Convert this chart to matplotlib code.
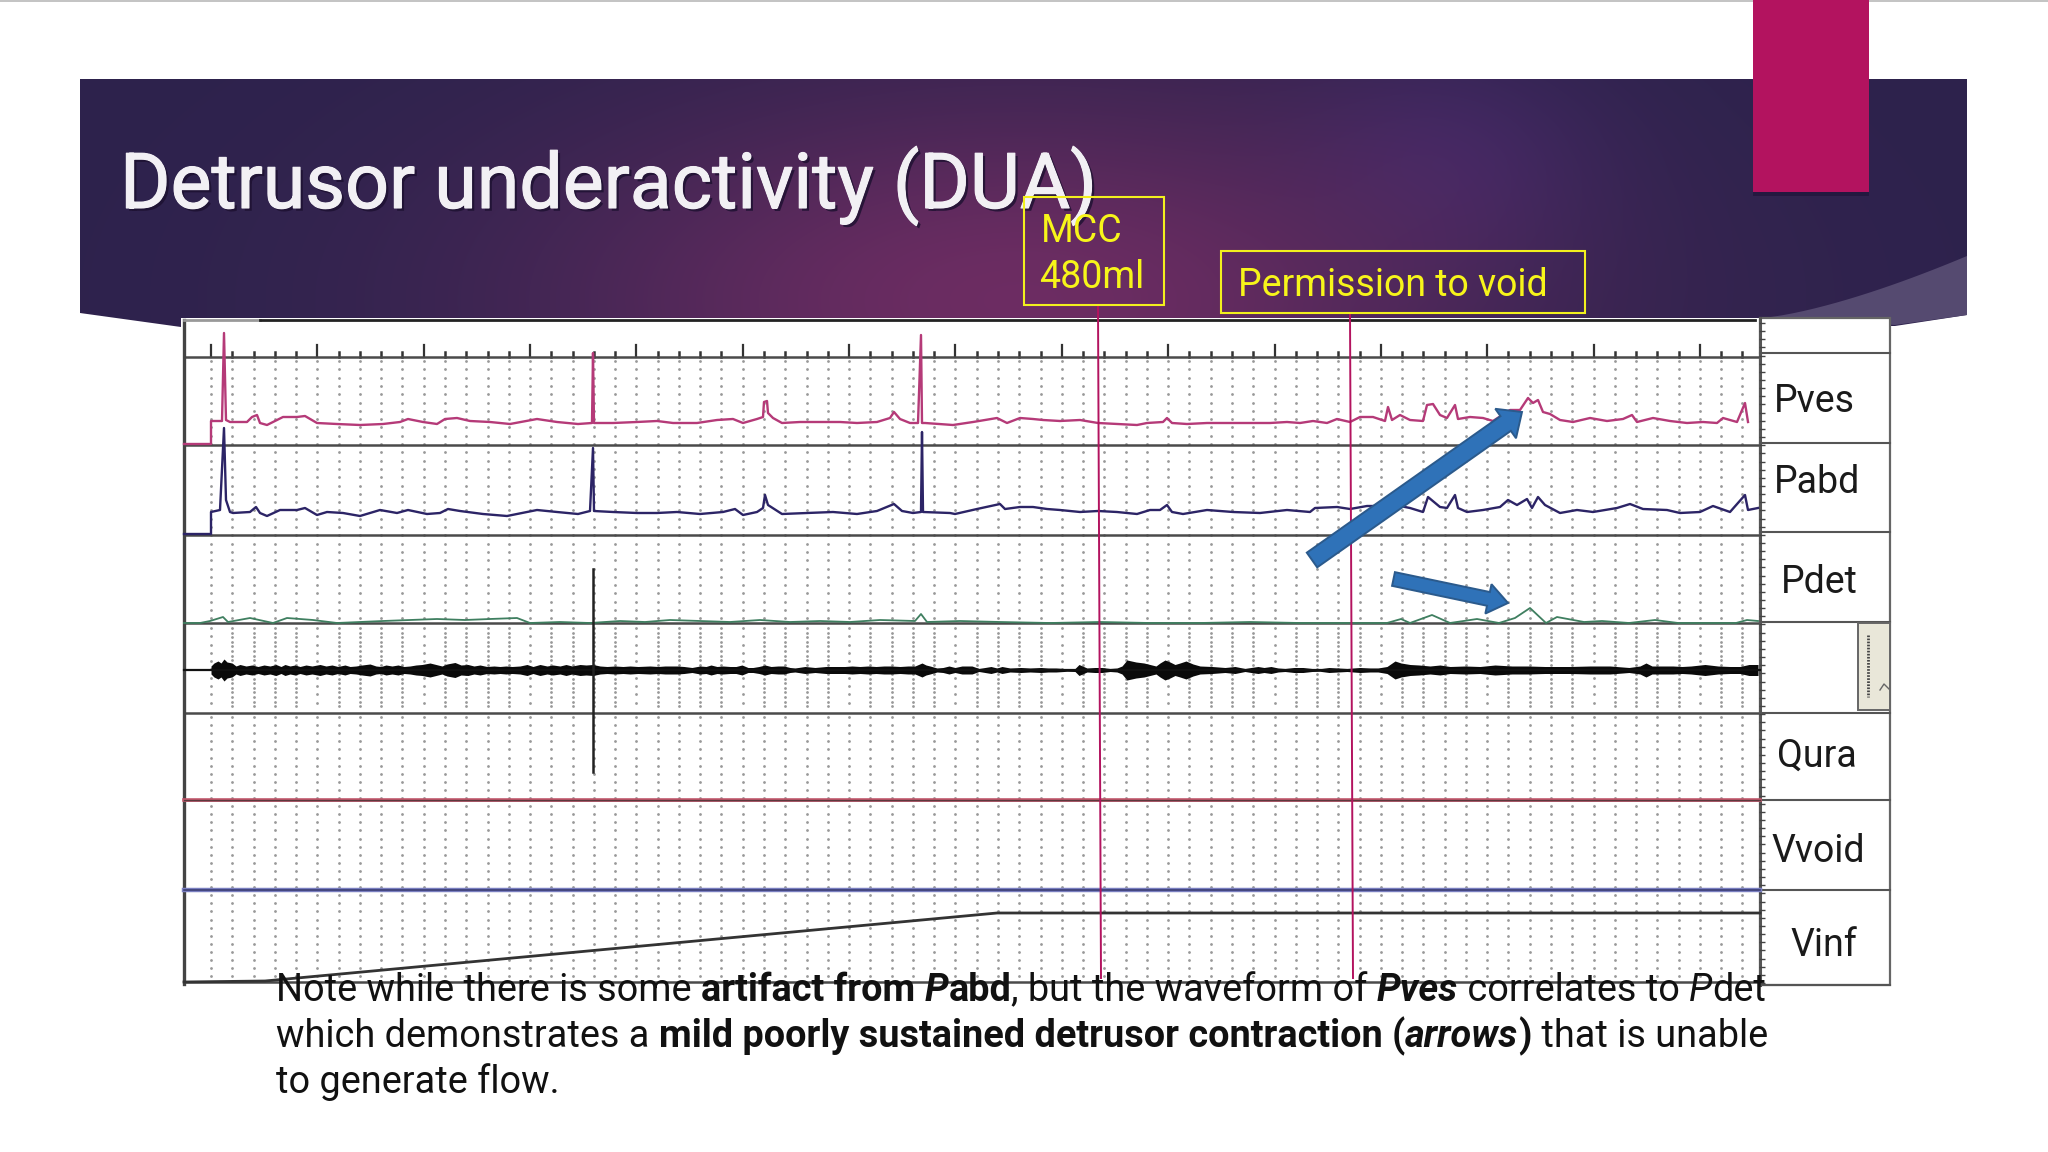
import numpy as np
import matplotlib
matplotlib.use("Agg")
import matplotlib.pyplot as plt
from matplotlib.patches import Rectangle, Polygon, FancyArrow
import matplotlib.patheffects as pe

FONT = "Roboto"
title = "Detrusor underactivity (DUA)"
channel_labels = ["Pves", "Pabd", "Pdet", "Qura", "Vvoid", "Vinf"]
channel_label_x = [1774, 1774, 1781, 1777, 1771, 1790]
channel_label_y = [412, 493, 593, 767, 862, 956]
note_lines = [
    [("Note while there is some ", "normal", "normal"), ("artifact from ", "bold", "normal"),
     ("P", "bold", "italic"), ("abd", "bold", "normal"), (", but the waveform of ", "normal", "normal"),
     ("Pves", "bold", "italic"), (" correlates to ", "normal", "normal"), ("P", "normal", "italic"),
     ("det", "normal", "normal")],
    [("which demonstrates a ", "normal", "normal"),
     ("mild poorly sustained detrusor contraction (", "bold", "normal"),
     ("arrows", "bold", "italic"), (")", "bold", "normal"), (" that is unable", "normal", "normal")],
    [("to generate flow.", "normal", "normal")],
]

# trace 1, Pves
pves_x = [184, 211, 211, 222, 224, 226, 230, 247, 252, 257, 260, 267, 273, 283, 297, 305, 317, 337, 360,
          383, 400, 408, 423, 437, 445, 457, 470, 490, 510, 537, 557, 578, 592, 593, 594, 613, 637, 657,
          673, 697, 717, 733, 743, 757, 763, 764, 767, 768, 773, 782, 800, 820, 840, 857, 877, 890, 894,
          900, 910, 918, 921, 922, 925, 953, 973, 997, 1007, 1020, 1033, 1043, 1060, 1080, 1098, 1117,
          1137, 1147, 1163, 1167, 1172, 1187, 1207, 1227, 1250, 1270, 1287, 1300, 1313, 1327, 1337, 1350,
          1360, 1373, 1385, 1388, 1392, 1400, 1410, 1423, 1427, 1433, 1440, 1447, 1455, 1458, 1470, 1483,
          1493, 1510, 1520, 1528, 1533, 1538, 1543, 1550, 1560, 1573, 1590, 1607, 1623, 1632, 1637, 1653,
          1670, 1687, 1703, 1717, 1723, 1737, 1745, 1748]
pves_y = [444, 444, 421, 421, 333, 420, 422, 422, 417, 415, 423, 425, 422, 417, 417, 416, 423, 424, 425,
          424, 422, 419, 422, 424, 419, 418, 421, 422, 424, 419, 422, 424, 423, 353, 423, 423, 422, 421,
          423, 423, 420, 419, 423, 419, 417, 402, 401, 413, 418, 423, 422, 422, 422, 423, 422, 418, 412,
          419, 423, 423, 335, 423, 423, 425, 422, 418, 423, 418, 419, 420, 421, 420, 423, 424, 425, 423,
          422, 418, 423, 424, 423, 423, 423, 423, 422, 423, 421, 423, 419, 422, 417, 417, 421, 407, 420,
          415, 420, 421, 405, 404, 415, 418, 405, 419, 417, 418, 421, 410, 410, 398, 403, 400, 412, 414,
          420, 422, 418, 421, 419, 415, 422, 418, 421, 423, 422, 423, 418, 422, 403, 422]

# trace 2, Pabd
pabd_x = [184, 211, 211, 220, 224, 226, 230, 233, 250, 256, 260, 267, 280, 297, 305, 317, 327, 343, 360,
          380, 397, 408, 427, 440, 448, 460, 483, 507, 537, 557, 578, 590, 593, 594, 613, 637, 657, 677,
          700, 723, 735, 743, 757, 763, 765, 768, 782, 807, 833, 857, 877, 894, 902, 913, 921, 922, 923,
          950, 955, 977, 1000, 1005, 1020, 1033, 1047, 1060, 1080, 1098, 1117, 1137, 1150, 1160, 1167,
          1172, 1183, 1207, 1233, 1260, 1287, 1310, 1315, 1337, 1350, 1367, 1380, 1400, 1410, 1423, 1428,
          1440, 1447, 1455, 1458, 1467, 1483, 1500, 1508, 1517, 1527, 1532, 1538, 1545, 1560, 1577, 1593,
          1617, 1630, 1643, 1667, 1680, 1700, 1713, 1730, 1745, 1748, 1758]
pabd_y = [534, 534, 512, 510, 428, 500, 512, 513, 512, 507, 513, 516, 510, 510, 508, 515, 512, 513, 516,
          510, 513, 510, 514, 513, 509, 511, 514, 516, 510, 512, 514, 511, 448, 511, 512, 513, 513, 512,
          514, 512, 509, 515, 512, 508, 495, 505, 514, 513, 512, 514, 511, 504, 511, 513, 512, 432, 512,
          513, 514, 509, 504, 509, 507, 507, 509, 510, 512, 511, 512, 514, 510, 510, 505, 512, 514, 510,
          512, 513, 510, 512, 508, 507, 509, 506, 506, 506, 508, 512, 497, 507, 508, 495, 508, 512, 510,
          507, 500, 505, 499, 508, 497, 505, 513, 510, 512, 508, 504, 509, 510, 513, 512, 506, 512, 495,
          510, 508]

# trace 3, Pdet
pdet_x = [184, 200, 210, 223, 228, 250, 273, 287, 313, 337, 360, 383, 410, 437, 465, 490, 517, 530, 560,
          590, 620, 645, 670, 700, 730, 760, 790, 820, 850, 880, 915, 921, 927, 960, 1000, 1050, 1100,
          1150, 1200, 1250, 1300, 1352, 1387, 1401, 1410, 1432, 1450, 1477, 1499, 1515, 1530, 1546, 1557,
          1584, 1602, 1629, 1655, 1678, 1736, 1747, 1758]
pdet_y = [623, 623, 621, 617, 622, 618, 623, 618, 620, 623, 622, 621, 620, 619, 620, 619, 618, 623, 622,
          623, 621, 622, 620, 621, 622, 620, 622, 621, 622, 620, 621, 614, 622, 621, 622, 623, 622, 623,
          623, 622, 623, 623, 623, 619, 623, 615, 623, 619, 623, 618, 608, 623, 617, 622, 621, 623, 620,
          623, 623, 620, 621]

# trace 4, EMG band: half thickness along the line
emg_x = [211, 214, 218, 221, 224, 227, 232, 236, 240, 246, 252, 258, 264, 270, 276, 281, 285, 290, 295,
         300, 306, 312, 320, 326, 332, 338, 345, 350, 356, 362, 370, 376, 381, 386, 392, 398, 404, 410,
         416, 422, 430, 436, 442, 447, 455, 461, 468, 474, 480, 487, 494, 500, 506, 512, 520, 527, 533,
         540, 547, 553, 560, 566, 572, 580, 586, 593, 600, 607, 615, 623, 630, 638, 650, 658, 665, 677,
         684, 692, 700, 706, 711, 717, 723, 730, 736, 742, 748, 753, 759, 765, 771, 778, 784, 790, 795,
         805, 815, 826, 835, 845, 852, 860, 868, 876, 884, 891, 900, 908, 915, 922, 926, 930, 937, 943,
         949, 955, 962, 972, 979, 985, 991, 997, 1002, 1010, 1021, 1030, 1041, 1048, 1056, 1067, 1075,
         1079, 1087, 1095, 1102, 1110, 1117, 1122, 1127, 1136, 1144, 1150, 1156, 1160, 1165, 1170, 1175,
         1180, 1186, 1193, 1200, 1212, 1225, 1235, 1245, 1251, 1258, 1264, 1271, 1278, 1285, 1294, 1303,
         1312, 1320, 1329, 1338, 1347, 1360, 1370, 1378, 1387, 1395, 1401, 1410, 1419, 1430, 1440, 1450,
         1465, 1480, 1495, 1512, 1528, 1545, 1570, 1590, 1610, 1629, 1640, 1646, 1652, 1660, 1673, 1682,
         1691, 1705, 1718, 1730, 1740, 1749, 1758]
emg_half = [4, 7, 9, 7, 11, 8, 7, 4, 5.5, 4, 5, 3.5, 5, 4, 5.5, 3.5, 5.5, 4, 5, 3.5, 5, 4, 5.5, 4, 5, 3.5,
            5, 3.5, 4, 5, 6, 4, 3.5, 5, 4, 5, 3.5, 4, 5, 5.5, 7, 5.5, 4, 6, 7.5, 5, 5.5, 4, 5, 3.5, 4, 3.5, 4,
            3.5, 4, 5.5, 3.5, 5.5, 4, 5, 4, 5.5, 4, 5.5, 5, 5.5, 4, 3.5, 4, 3.5, 4, 3.5, 4, 3.5, 4,
            4, 3.5, 2.5, 4, 3.5, 5, 3.5, 4, 3.5, 3.5, 5, 2.5, 2.5, 3.5, 5, 3.5, 4, 4, 2.5, 2, 3.5, 2.5, 3.5,
            3.5, 3.5, 4, 3.5, 4, 3.5, 4, 4, 3.5, 4, 4, 7, 5, 4, 2, 2.5, 4, 2.5, 4, 4, 1.5, 2.5, 3.5, 2, 3.5,
            2, 2.5, 2, 2.5, 2, 2, 1.3, 1.5, 5.5, 2, 2.5, 2.5, 1.5, 2, 4, 10, 8, 7, 5.5, 4, 7, 10, 8, 5.5, 7,
            9, 6, 4, 3.5, 2.5, 3.5, 1.5, 2.5, 3.5, 2.5, 3.5, 2, 1.5, 2.5, 2.5, 1.5, 1.3, 2.5, 2, 1.5, 2.5,
            2, 2, 3.5, 9, 7, 5.5, 5, 4, 5, 3.5, 4, 3.5, 5, 4, 4, 3.5, 3.5, 4, 4, 2.5, 4, 7, 4, 4, 4, 3.5, 4,
            5.5, 4, 3.5, 3.5, 5.5, 5.5]

# trace 7, Vinf
vinf_x = [184, 265, 997, 1760]
vinf_y = [982, 981, 913, 913]

grid_lines_y = [357, 445, 535, 623, 713, 800, 890, 982]
panel_lines_y = [353, 443, 532, 622, 713, 800, 890, 985]

fig = plt.figure(figsize=(20.48, 11.52), dpi=100, facecolor="white")
ax = fig.add_axes([0, 0, 1, 1])
ax.set_xlim(0, 2048)
ax.set_ylim(1152, 0)
ax.axis("off")

# banner with radial purple gradient
yy, xx = np.mgrid[79:330, 80:1967]
w1 = np.exp(-((xx - 1020) / 480.0) ** 2 - ((yy - 300) / 210.0) ** 2)
w2 = np.exp(-((xx - 1440) / 150.0) ** 2 - ((yy - 165) / 110.0) ** 2)
base = np.array([0.175, 0.135, 0.300])
mid = np.array([0.425, 0.175, 0.385])
blue = np.array([0.225, 0.155, 0.390])
img = base + (w1[..., None] * (mid - base)) + (w2[..., None] * (blue - base)) * (1 - w1[..., None])
im = ax.imshow(img, extent=(80, 1967, 330, 79), aspect="auto", zorder=1)
banner_x = [80, 1967, 1967, 1895, 181, 80]
banner_y = [79, 79, 315, 326, 327, 313]
banner = Polygon(np.c_[banner_x, banner_y], closed=True, fc="none", ec="none", transform=ax.transData)
ax.add_patch(banner)
im.set_clip_path(banner)
ax.set_xlim(0, 2048)
ax.set_ylim(1152, 0)

t = np.linspace(0, 1, 20)
swoosh_x = np.r_[1760 + 207 * t, 1967, 1895]
swoosh_y = np.r_[318 - 62 * t ** 1.4, 315, 325]
ax.add_patch(Polygon(np.c_[swoosh_x, swoosh_y], closed=True, fc="#554a70", ec="none", zorder=2))

# top rule and pink tab
ax.add_patch(Rectangle((0, 0), 2048, 1.5, fc="#c4c4c4", ec="none", zorder=2))
ax.add_patch(Rectangle((1753, 188), 116, 8, fc="#1d1236", ec="none", alpha=0.6, zorder=2))
ax.add_patch(Rectangle((1753, 0), 116, 192, fc="#b3135f", ec="none", zorder=3))

ax.text(120, 208, title, fontsize=55.5, color="#f2f0f4", family=FONT, zorder=6,
        path_effects=[pe.withSimplePatchShadow(offset=(2, -2), shadow_rgbFace="#1c1030", alpha=0.8),
                      pe.withStroke(linewidth=0.8, foreground="#f2f0f4")])

# chart sheet
ax.add_patch(Rectangle((181, 318), 1709, 667, fc="white", ec="none", zorder=4))
ax.add_patch(Rectangle((1760, 318), 130, 667, fc="white", ec="#666666", lw=1.6, zorder=4))

# dot grid, denser in the EMG row on most columns
cols = 211 + 21.27 * np.arange(73)
for i, cx in enumerate(cols):
    ys = np.r_[np.arange(361, 620, 8.3), np.arange(628, 710, 4.6 if i % 5 else 8.3), np.arange(717, 978, 8.1)]
    ax.scatter(np.full_like(ys, cx), ys, s=4, color="#999999", linewidths=0, zorder=5)
    top = 345 if i % 5 == 0 else 352
    ax.plot([cx, cx], [top, 357], color="#333333", lw=1.6 if i % 5 == 0 else 1.8, zorder=5)

# horizontal channel lines and frame
for y in grid_lines_y:
    ax.plot([184, 1760], [y, y], color="#4a4a4a", lw=1.8, zorder=5)
for y in panel_lines_y:
    ax.plot([1760, 1890], [y, y], color="#555555", lw=1.5, zorder=5)
ax.plot([184, 184], [320, 984], color="#444444", lw=2.4, zorder=5)
ax.plot([184, 260], [320, 320], color="#999999", lw=2, zorder=5)
ax.plot([260, 1755], [320, 320], color="#222222", lw=2, zorder=5)
ax.plot([1760, 1760], [318, 985], color="#555555", lw=2.2, zorder=5)
ax.scatter(np.full(82, 1762), np.linspace(323, 983, 82), marker="_", s=14, color="#444444", linewidths=1, zorder=5)

ax.plot(pves_x, pves_y, color="#b53a78", lw=1.7, zorder=6)
ax.plot(pabd_x, pabd_y, color="#2c2466", lw=1.7, zorder=6)
ax.plot(pdet_x, pdet_y, color="#3f7f60", lw=1.3, zorder=6)
n_emg = min(len(emg_x), len(emg_half))
emg_xa = np.array(emg_x[:n_emg], dtype=float)
emg_ha = np.array(emg_half[:n_emg], dtype=float)
ax.fill_between(emg_xa, 670 - emg_ha, 670 + emg_ha, color="#0a0a0a", lw=0, zorder=6)
ax.plot([184, 1760], [670, 670], color="#111111", lw=1.6, zorder=6)
ax.plot([593, 593], [569, 772], color="#222222", lw=1.8, zorder=6)
ax.plot([184, 1760], [800, 800], color="#c0566a", lw=2.6, zorder=6)
ax.plot([184, 1760], [800, 800], color="#5b3a3e", lw=0.9, zorder=6)
ax.plot([184, 1760], [890, 890], color="#7a7fc0", lw=3.2, zorder=6)
ax.plot([184, 1760], [890, 890], color="#36386f", lw=1.1, zorder=6)
ax.plot(vinf_x, vinf_y, color="#333333", lw=2, zorder=6)

# event markers
ax.plot([1098, 1101], [306, 978], color="#b3135f", lw=1.4, zorder=7)
ax.plot([1350, 1353], [313, 978], color="#b3135f", lw=1.4, zorder=7)
ax.add_patch(Rectangle((1024, 197), 140, 108, fc="none", ec="#f2f01e", lw=1.5, zorder=8))
ax.add_patch(Rectangle((1221, 251), 364, 62, fc="none", ec="#f2f01e", lw=1.5, zorder=8))
ax.text(1041, 242, "MCC", color="#f7f51a", fontsize=27, family=FONT, zorder=8)
ax.text(1039, 288, "480ml", color="#f7f51a", fontsize=27, family=FONT, zorder=8)
ax.text(1238, 296, "Permission to void", color="#f7f51a", fontsize=27, family=FONT, zorder=8)

# arrows
ax.add_patch(FancyArrow(1312, 560, 210, -148, width=18, head_width=36, head_length=20,
                        length_includes_head=True, fc="#2f72b8", ec="#2b5a8c", lw=1.4, zorder=9))
ax.add_patch(FancyArrow(1393.5, 579, 114.5, 24, width=14, head_width=30, head_length=20,
                        length_includes_head=True, fc="#2f72b8", ec="#2b5a8c", lw=1.4, zorder=9))

for name, lx, ly in zip(channel_labels, channel_label_x, channel_label_y):
    ax.text(lx, ly, name, fontsize=27, color="#1a1a1a", family=FONT, zorder=8)

# clipped corner of the source screenshot
ax.add_patch(Rectangle((1858, 623), 32, 87, fc="#e9e7d9", ec="#666666", lw=1.4, zorder=7))
ax.plot([1868, 1868], [635, 697], color="#444444", lw=2, ls=(0, (0.6, 0.5)), zorder=8)
ax.plot([1880, 1884, 1890], [690, 684, 690], color="#666666", lw=1, zorder=8)

# note text, drawn run by run so bold and italic sit on the same baseline
NOTE_SIZE = 27.3
fig.canvas.draw()
rend = fig.canvas.get_renderer()
for baseline, runs in zip([1001, 1047, 1093], note_lines):
    x = 276
    for text, weight, style in runs:
        tt = ax.text(x, baseline, text, fontsize=NOTE_SIZE, color="#111111", family=FONT, weight=weight,
                     style=style, zorder=10)
        # trailing blanks are not counted by the extent, measure with a marker glyph
        probe = ax.text(0, 0, text + "|", fontsize=NOTE_SIZE, family=FONT, weight=weight, style=style)
        bar = ax.text(0, 0, "|", fontsize=NOTE_SIZE, family=FONT, weight=weight, style=style)
        x += probe.get_window_extent(rend).width - bar.get_window_extent(rend).width
        probe.remove()
        bar.remove()

fig.savefig("out.png", dpi=100, facecolor="white")
